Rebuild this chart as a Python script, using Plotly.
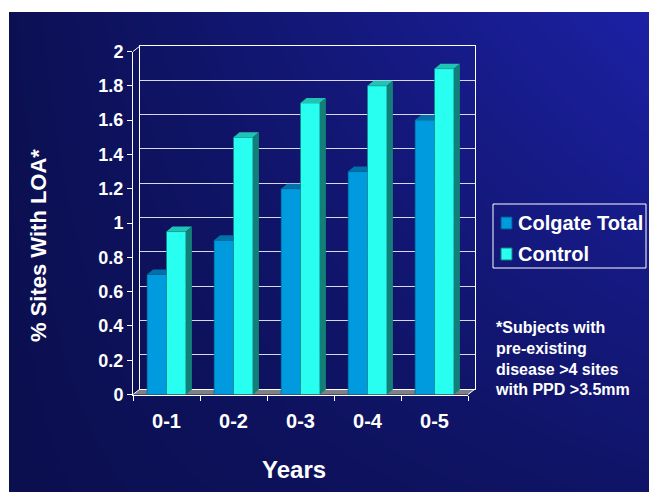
import plotly.graph_objects as go

# ---------------- data ----------------
categories = ["0-1", "0-2", "0-3", "0-4", "0-5"]
colgate_total = [0.7, 0.9, 1.2, 1.3, 1.6]
control = [0.95, 1.5, 1.7, 1.8, 1.9]
y_tick_vals = [0, 0.2, 0.4, 0.6, 0.8, 1, 1.2, 1.4, 1.6, 1.8, 2]
y_tick_text = ["0", "0.2", "0.4", "0.6", "0.8", "1", "1.2", "1.4", "1.6", "1.8", "2"]
series_names = ["Colgate Total", "Control"]
footnote_lines = ["*Subjects with", "pre-existing", "disease >4 sites", "with PPD >3.5mm"]

# ---------------- styling / geometry ----------------
WIN_W, WIN_H = 657, 492
PAGE_MARGIN = 8                      # default <body> margin of the written page
W, H = WIN_W - PAGE_MARGIN, WIN_H - PAGE_MARGIN
FONT = "Liberation Sans, Arial, Helvetica, sans-serif"
# all geometry below is given in window pixels
PANEL = dict(x0=9, y0=12, x1=657, y1=492)          # blue slide panel
FRONT = dict(x0=133, y0=51.5, x1=468, y1=394.5)    # front plane of the 3D plot
DEPTH_X, DEPTH_Y = 7, 5.5                          # wall depth in px
BAR_W = 0.29
FACE_DX_PX, FACE_DY_PX = 6, 5
LEGEND_BOX = dict(x0=493, y0=204, x1=646, y1=268)
LEGEND_ROWS_Y = [223, 254]
LEGEND_SQ_X = (501, 512)
LEGEND_SQ = 12
LEGEND_TEXT_X = 516

COL_C = dict(front="#009bdf", top="#0072a8", edge="#005a88")
COL_K = dict(front="#28fff0", top="#1fc4b4", side="#128078", edge="#128078")

def fx(px):
    return (px - PAGE_MARGIN) / W

def fy(py):
    return (WIN_H - py) / H

n = len(categories)
xs = list(range(n))
y_max = y_tick_vals[-1]
unit_x_px = (FRONT["x1"] - FRONT["x0"]) / n
unit_y_px = (FRONT["y1"] - FRONT["y0"]) / y_max
fdx = FACE_DX_PX / unit_x_px
fdy = FACE_DY_PX / unit_y_px

fig = go.Figure()

# --- background gradient (subplot xy spanning the panel) ---
fig.add_trace(go.Heatmap(
    x=[0, 1], y=[0, 1], z=[[0.0, 0.28], [0.04, 1.0]],
    colorscale=[[0, "#0b0f4f"], [1, "#1c21a6"]], zmin=0, zmax=1,
    zsmooth="best", showscale=False, hoverinfo="skip",
    xaxis="x", yaxis="y"))

def bgx(px):
    return (px - PANEL["x0"]) / (PANEL["x1"] - PANEL["x0"])

def bgy(py):
    return (PANEL["y1"] - py) / (PANEL["y1"] - PANEL["y0"])

# floor of the 3D plot (drawn in background subplot coords)
floor_px = [(FRONT["x0"], FRONT["y1"]), (FRONT["x1"], FRONT["y1"]),
            (FRONT["x1"] + DEPTH_X, FRONT["y1"] - DEPTH_Y),
            (FRONT["x0"] + DEPTH_X, FRONT["y1"] - DEPTH_Y),
            (FRONT["x0"], FRONT["y1"])]
fig.add_trace(go.Scatter(
    x=[bgx(p[0]) for p in floor_px], y=[bgy(p[1]) for p in floor_px],
    mode="lines", fill="toself", fillcolor="#7f7f86",
    line=dict(width=0), hoverinfo="skip", showlegend=False,
    xaxis="x", yaxis="y"))

# --- back wall gridlines (subplot x2y2) ---
fig.add_trace(go.Scatter(x=[None], y=[None], xaxis="x2", yaxis="y2",
                         showlegend=False, hoverinfo="skip"))

# --- bars (front subplot x3y3) ---
fig.add_trace(go.Bar(
    x=xs, y=colgate_total, name=series_names[0], width=BAR_W, offset=-BAR_W,
    marker=dict(color=COL_C["front"], line=dict(width=0.6, color=COL_C["edge"])),
    showlegend=False, xaxis="x3", yaxis="y3"))
fig.add_trace(go.Bar(
    x=xs, y=control, name=series_names[1], width=BAR_W, offset=0,
    marker=dict(color=COL_K["front"], line=dict(width=0.6, color=COL_K["edge"])),
    showlegend=False, xaxis="x3", yaxis="y3"))

# 3D faces built from the values
top_c_x, top_c_y = [], []
for i, v in zip(xs, colgate_total):
    xl, xr = i - BAR_W, i
    top_c_x += [xl, xr, xr, xl + fdx, xl, None]
    top_c_y += [v, v, v + fdy, v + fdy, v, None]
top_k_x, top_k_y, side_k_x, side_k_y = [], [], [], []
for i, v in zip(xs, control):
    xl, xr = i, i + BAR_W
    top_k_x += [xl, xr, xr + fdx, xl + fdx, xl, None]
    top_k_y += [v, v, v + fdy, v + fdy, v, None]
    side_k_x += [xr, xr + fdx, xr + fdx, xr, xr, None]
    side_k_y += [0, fdy, v + fdy, v, 0, None]

for fx_, fy_, col in [(top_c_x, top_c_y, COL_C["top"]),
                      (top_k_x, top_k_y, COL_K["top"]),
                      (side_k_x, side_k_y, COL_K["side"])]:
    fig.add_trace(go.Scatter(
        x=fx_, y=fy_, mode="lines", fill="toself", fillcolor=col,
        line=dict(width=0), hoverinfo="skip", showlegend=False,
        xaxis="x3", yaxis="y3"))

# ---------------- axes ----------------
hidden = dict(visible=False, fixedrange=True)
fig.update_layout(
    xaxis=dict(domain=[fx(PANEL["x0"]), fx(PANEL["x1"])], range=[0, 1], **hidden),
    yaxis=dict(domain=[fy(PANEL["y1"]), fy(PANEL["y0"])], range=[0, 1], **hidden),
    xaxis2=dict(domain=[fx(FRONT["x0"] + DEPTH_X), fx(FRONT["x1"] + DEPTH_X)],
                range=[-0.5, n - 0.5], anchor="y2", showgrid=False, zeroline=False,
                showticklabels=False, ticks="", showline=True, mirror=True,
                linecolor="white", linewidth=1),
    yaxis2=dict(domain=[fy(FRONT["y1"] - DEPTH_Y), fy(FRONT["y0"] - DEPTH_Y)],
                range=[0, y_max], anchor="x2", tickvals=y_tick_vals,
                showgrid=True, gridcolor="#d8d8f0", gridwidth=1, zeroline=False,
                showticklabels=False, ticks="", showline=True, mirror=True,
                linecolor="white", linewidth=1),
    xaxis3=dict(domain=[fx(FRONT["x0"]), fx(FRONT["x1"])], range=[-0.5, n - 0.5],
                anchor="y3", tickvals=xs, ticktext=categories, ticks="",
                showgrid=False, zeroline=False, showline=True, linecolor="white",
                linewidth=1, ticklabelstandoff=8,
                tickfont=dict(family=FONT, size=20, color="white", weight="bold"),
                minor=dict(tickvals=[i - 0.5 for i in range(n + 1)], ticks="outside",
                           ticklen=5, tickcolor="white", tickwidth=1, showgrid=False)),
    yaxis3=dict(domain=[fy(FRONT["y1"]), fy(FRONT["y0"])], range=[0, y_max],
                anchor="x3", tickvals=y_tick_vals, ticktext=y_tick_text,
                ticks="outside", ticklen=5, tickcolor="white", showgrid=False,
                zeroline=False, showline=True, linecolor="white", linewidth=1,
                tickfont=dict(family=FONT, size=18, color="white", weight="bold")),
)

# connectors between front plane and back wall
shapes = []
for (px, py) in [(FRONT["x0"], FRONT["y0"]), (FRONT["x0"], FRONT["y1"]),
                 (FRONT["x1"], FRONT["y1"])]:
    shapes.append(dict(type="line", xref="paper", yref="paper",
                       x0=fx(px), y0=fy(py), x1=fx(px + DEPTH_X), y1=fy(py - DEPTH_Y),
                       line=dict(color="white", width=1), layer="above"))

# legend box, drawn to match the slide's legend
shapes.append(dict(type="rect", xref="paper", yref="paper",
                   x0=fx(LEGEND_BOX["x0"]), x1=fx(LEGEND_BOX["x1"]),
                   y0=fy(LEGEND_BOX["y1"]), y1=fy(LEGEND_BOX["y0"]),
                   line=dict(color="white", width=1), fillcolor="rgba(0,0,0,0)",
                   layer="above"))
annotations = []
for name, cy, col in zip(series_names, LEGEND_ROWS_Y, [COL_C, COL_K]):
    shapes.append(dict(type="rect", xref="paper", yref="paper",
                       x0=fx(LEGEND_SQ_X[0]), x1=fx(LEGEND_SQ_X[1]),
                       y0=fy(cy + LEGEND_SQ / 2), y1=fy(cy - LEGEND_SQ / 2),
                       line=dict(color=col["edge"], width=1), fillcolor=col["front"],
                       layer="above"))
    annotations.append(dict(text=name, x=fx(LEGEND_TEXT_X), y=fy(cy), xref="paper",
                            yref="paper", showarrow=False, xanchor="left",
                            yanchor="middle",
                            font=dict(family=FONT, size=20, color="white",
                                      weight="bold")))

annotations += [
    dict(text="% Sites With LOA*", x=fx(38), y=fy(246), xref="paper", yref="paper",
         textangle=-90, showarrow=False, xanchor="center", yanchor="middle",
         font=dict(family=FONT, size=22, color="white", weight="bold")),
    dict(text="Years", x=fx(294), y=fy(469), xref="paper", yref="paper",
         showarrow=False, xanchor="center", yanchor="middle",
         font=dict(family=FONT, size=24, color="white", weight="bold")),
    dict(text="<br>".join(footnote_lines), x=fx(493), y=fy(358.5), xref="paper",
         yref="paper", showarrow=False, xanchor="left", yanchor="middle", align="left",
         font=dict(family=FONT, size=16, color="white", weight="bold")),
]

fig.update_layout(
    width=W, height=H, margin=dict(l=0, r=0, t=0, b=0, autoexpand=False),
    paper_bgcolor="white", plot_bgcolor="rgba(0,0,0,0)",
    barmode="overlay", shapes=shapes, annotations=annotations,
    showlegend=False,
)

fig.write_html("out.html")
